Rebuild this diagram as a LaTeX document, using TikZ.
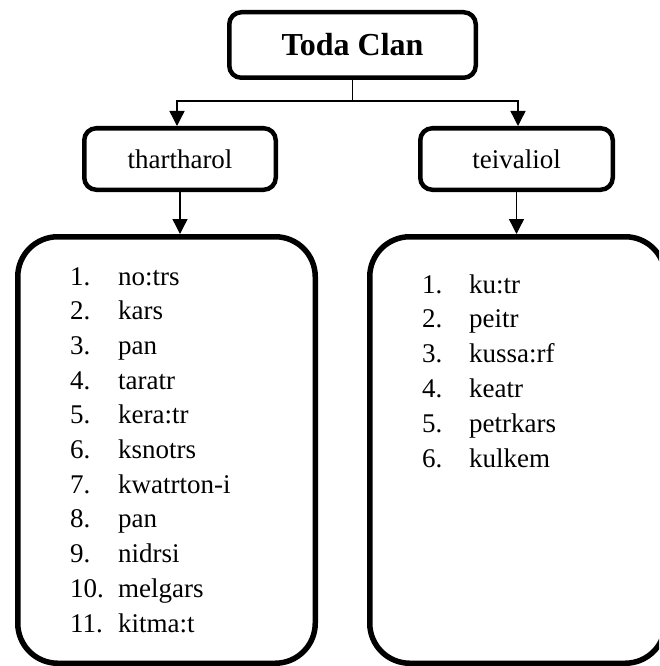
\documentclass[tikz,border=0pt]{standalone}
\usepackage{fontspec}
\setmainfont{Liberation Serif}
\usetikzlibrary{arrows.meta}

\tikzset{
    clanbox/.style={draw, line width=4.5pt, rounded corners=12pt, inner sep=0pt},
    listbox/.style={draw, line width=5.5pt, rounded corners=40pt, inner sep=0pt},
    link/.style={line width=1.4pt, -{Triangle[length=15pt, width=15pt]}},
    item/.style={anchor=base west, inner sep=0pt, font=\fontsize{27}{32}\selectfont}
}

\begin{document}
\begin{tikzpicture}[x=1pt, y=-1pt]
    \clip (0,0) rectangle (659,666);

    % Top box
    \node[clanbox, minimum width=246.5pt, minimum height=65.5pt,
          font=\fontsize{32}{38}\selectfont\bfseries] (toda) at (352.5,45) {Toda Clan};

    % Two groups
    \node[clanbox, minimum width=191.5pt, minimum height=61.5pt,
          font=\fontsize{27}{32}\selectfont] (thar) at (180,159) {thartharol};
    \node[clanbox, minimum width=192.5pt, minimum height=61.5pt,
          font=\fontsize{27}{32}\selectfont] (teiv) at (516.5,159) {teivaliol};

    % Big list boxes
    \node[listbox, minimum width=297.5pt, minimum height=426.5pt] (tharlist) at (166.5,450) {};
    \node[listbox, minimum width=295.5pt, minimum height=426.5pt] (teivlist) at (517.5,450) {};

    % Connectors
    \draw[link] (toda.south) -- ++(0,21) coordinate (split) -| ([xshift=-3pt]thar.north);
    \draw[link] (split) -| ([xshift=1.5pt]teiv.north);
    \draw[link] (thar.south) -- (thar.south |- tharlist.north);
    \draw[link] (teiv.south) -- (teiv.south |- teivlist.north);

    % Sub-clans of thartharol
    \foreach \w [count=\i] in {no:trs, kars, pan, taratr, kera:tr, ksnotrs,
                               kwatrton-i, pan, nidrsi, melgars, kitma:t} {
        \node[item] (tharnum\i) at (70, 285+34.7*\i-34.7) {\i.};
        \node[item] (tharname\i) at (118, 285+34.7*\i-34.7) {\w};
    }

    % Sub-clans of teivaliol
    \foreach \w [count=\i] in {ku:tr, peitr, kussa:rf, keatr, petrkars, kulkem} {
        \node[item] (teivnum\i) at (422, 293+34.8*\i-34.8) {\i.};
        \node[item] (teivname\i) at (469, 293+34.8*\i-34.8) {\w};
    }

\end{tikzpicture}
\end{document}
